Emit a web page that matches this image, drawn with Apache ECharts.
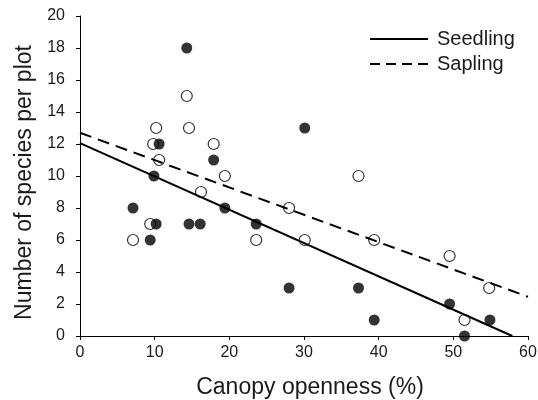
<!DOCTYPE html>
<html>
<head>
<meta charset="utf-8">
<script src="https://cdn.jsdelivr.net/npm/echarts@6/dist/echarts.min.js"></script>
<style>html,body{margin:0;padding:0;background:#fff}#c{width:538px;height:400px}</style>
</head>
<body>
<div id="c"></div>
<script>
// Seedling (filled circles): [canopy openness %, species per plot]
var seedlingPoints = [
  [14.3,18],[10.6,12],[17.9,11],[30.1,13],[9.9,10],[7.1,8],[19.4,8],
  [10.2,7],[14.6,7],[16.1,7],[23.6,7],[9.4,6],[28.0,3],[37.3,3],
  [39.4,1],[49.5,2],[54.9,1],[51.5,0]
];
// Sapling (open circles)
var saplingPoints = [
  [14.3,15],[10.2,13],[14.6,13],[9.8,12],[17.9,12],[10.6,11],[19.4,10],
  [37.3,10],[16.2,9],[28.0,8],[9.4,7],[7.1,6],[23.6,6],[30.1,6],
  [39.4,6],[49.5,5],[54.8,3],[51.5,1]
];
// Regression line endpoints
var seedlingFit = [[0,12.05],[57.9,0]];
var saplingFit = [[0,12.7],[60,2.45]];
var seriesNames = ['Seedling','Sapling'];
var xTitle = 'Canopy openness (%)';
var yTitle = 'Number of species per plot';

var font = 'Liberation Sans, Arial, Helvetica, sans-serif';
var ink = '#1a1a1a';
var chart = echarts.init(document.getElementById('c'), null, {renderer:'canvas'});
chart.setOption({
  animation: false,
  backgroundColor: '#fff',
  grid: {left: 80, right: 10, top: 16, bottom: 64, containLabel: false, outerBoundsMode: 'none'},
  legend: {
    data: [
      {name: seriesNames[0], lineStyle: {type: 'solid', width: 2}},
      {name: seriesNames[1], lineStyle: {type: [10, 6], width: 2}}
    ],
    orient: 'vertical',
    left: 364, top: 24,
    itemWidth: 58, itemHeight: 20, itemGap: 5,
    itemStyle: {opacity: 0},
    textStyle: {fontFamily: font, fontSize: 20, color: ink, padding: [0,0,0,4]}
  },
  xAxis: {
    type: 'value', min: 0, max: 60, interval: 10,
    name: xTitle, nameLocation: 'middle', nameGap: 40,
    nameTextStyle: {fontFamily: font, fontSize: 23, color: ink, padding: [0,0,0,12]},
    axisLine: {show: true, onZero: false, lineStyle: {color: '#000', width: 1}},
    axisTick: {show: true, inside: false, length: 4, lineStyle: {color: '#000'}},
    axisLabel: {fontFamily: font, fontSize: 16, color: ink, margin: 9},
    splitLine: {show: false}
  },
  yAxis: {
    type: 'value', min: 0, max: 20, interval: 2,
    name: yTitle, nameLocation: 'middle', nameGap: 44,
    nameTextStyle: {fontFamily: font, fontSize: 23, color: ink, padding: [0,13,0,0]},
    axisLine: {show: true, onZero: false, lineStyle: {color: '#000', width: 1}},
    axisTick: {show: true, inside: false, length: 4, lineStyle: {color: '#000'}},
    axisLabel: {fontFamily: font, fontSize: 16, color: ink, margin: 15},
    splitLine: {show: false}
  },
  series: [
    {
      name: 'SaplingPts', type: 'scatter', data: saplingPoints, z: 2,
      symbol: 'circle', symbolSize: 11,
      itemStyle: {color: '#fff', borderColor: '#000', borderWidth: 1.2}
    },
    {
      name: 'SeedlingPts', type: 'scatter', data: seedlingPoints, z: 3,
      symbol: 'circle', symbolSize: 11,
      itemStyle: {color: '#000'}
    },
    {
      name: 'Seedling', type: 'line', data: seedlingFit, z: 4,
      symbol: 'none', silent: true,
      lineStyle: {color: '#000', width: 2, type: 'solid'},
      itemStyle: {color: '#000'}
    },
    {
      name: 'Sapling', type: 'line', data: saplingFit, z: 4,
      symbol: 'none', silent: true,
      lineStyle: {color: '#000', width: 2, type: [12, 7]},
      itemStyle: {color: '#000'}
    }
  ]
});
</script>
</body>
</html>
